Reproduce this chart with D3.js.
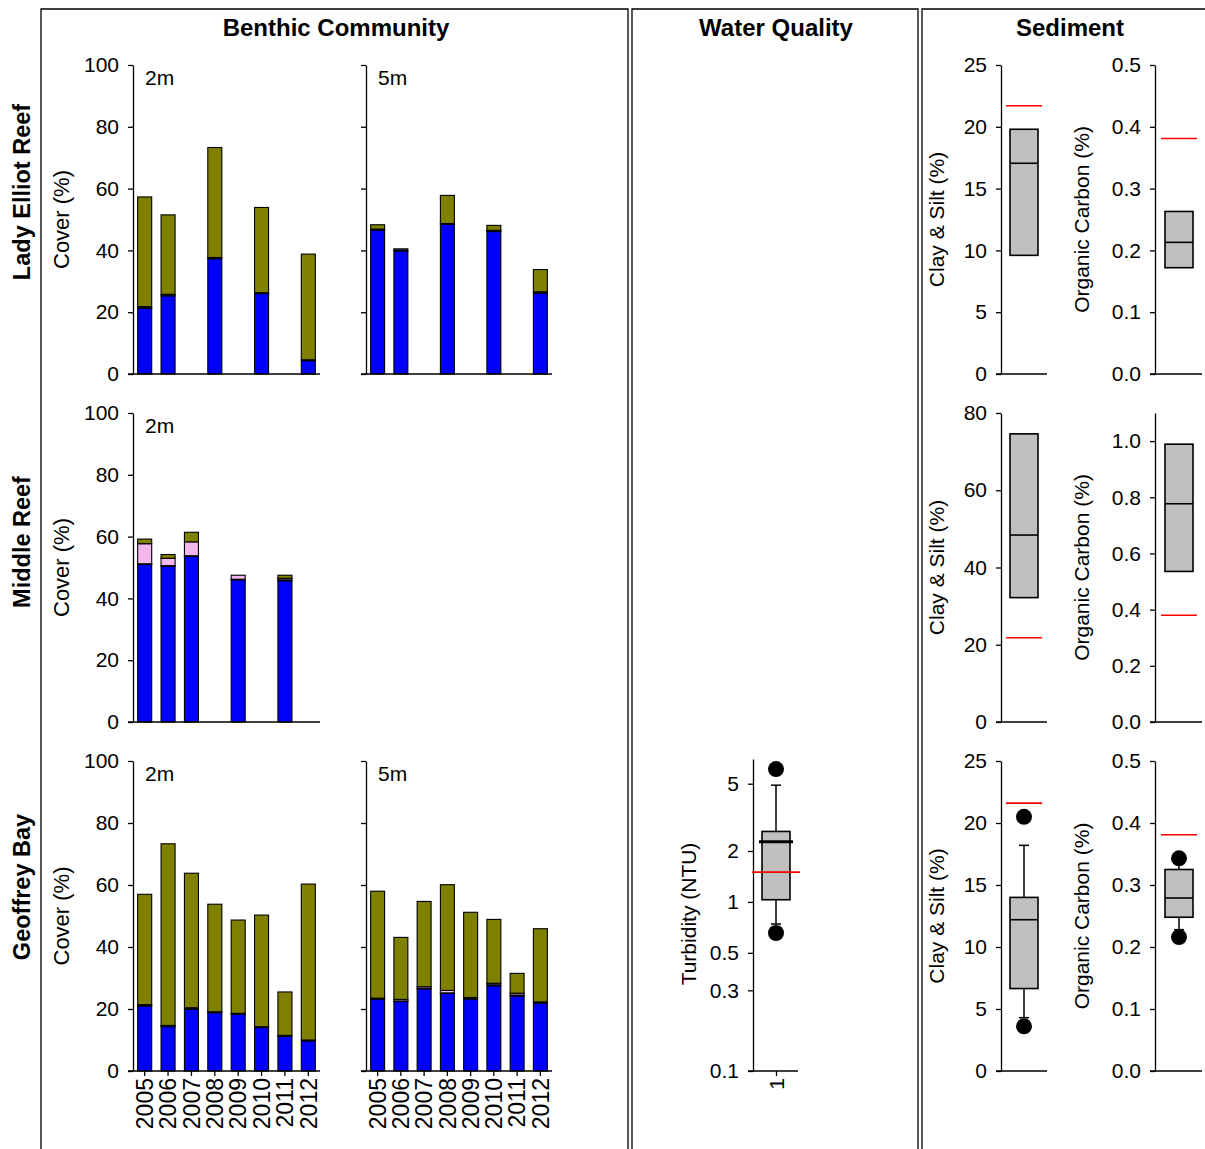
<!DOCTYPE html>
<html>
<head>
<meta charset="utf-8">
<script src="https://cdn.jsdelivr.net/npm/d3@7"></script>
<style>
  body { margin: 0; background: #fff; }
  text { font-family: "Liberation Sans", Arial, sans-serif; fill: #000; }
</style>
</head>
<body>
<svg id="chart" width="1205" height="1149"></svg>
<script>
// ---- data ----
const years = ["2005", "2006", "2007", "2008", "2009", "2010", "2011", "2012"];
const seriesKeys = ["hard", "other", "soft", "macro"];
const seriesColors = ["#0000FF", "#20204a", "#F4B6EE", "#808000"];

// Lady Elliot Reef 2m / 5m (null = not surveyed)
const leHard2  = [21.3, 25.3, null, 37.3, null, 26.0, null, 4.3];
const leOther2 = [0.5, 0.5, null, 0.4, null, 0.3, null, 0.3];
const leSoft2  = [0, 0, null, 0, null, 0, null, 0];
const leMacro2 = [35.5, 25.7, null, 35.6, null, 27.6, null, 34.2];

const leHard5  = [46.6, 39.8, null, 48.4, null, 46.1, null, 26.2];
const leOther5 = [0.3, 0.7, null, 0.3, null, 0.4, null, 0.4];
const leSoft5  = [0, 0, null, 0, null, 0, null, 0];
const leMacro5 = [1.4, 0, null, 9.1, null, 1.6, null, 7.2];

// Middle Reef 2m
const mrHard2  = [51.0, 50.4, 53.6, null, 46.0, null, 45.7, null];
const mrOther2 = [0.2, 0.2, 0.2, null, 0.2, null, 0.3, null];
const mrSoft2  = [6.5, 2.4, 4.5, null, 1.3, null, 0.5, null];
const mrMacro2 = [1.5, 1.2, 3.1, null, 0, null, 1.0, null];

// Geoffrey Bay 2m / 5m
const gbHard2  = [21.0, 14.3, 19.9, 18.8, 18.3, 14.0, 11.2, 9.7];
const gbOther2 = [0.4, 0.4, 0.5, 0.3, 0.3, 0.3, 0.3, 0.3];
const gbSoft2  = [0, 0, 0, 0, 0, 0, 0, 0];
const gbMacro2 = [35.6, 58.6, 43.4, 34.7, 30.1, 36.0, 14.0, 50.3];

const gbHard5  = [23.2, 22.4, 26.5, 25.0, 23.2, 27.5, 24.2, 21.9];
const gbOther5 = [0.3, 0.2, 0.2, 0.2, 0.5, 0.8, 0.3, 0.4];
const gbSoft5  = [0, 0.5, 0.5, 0.8, 0, 0, 0.6, 0];
const gbMacro5 = [34.5, 20.0, 27.5, 34.1, 27.5, 20.6, 6.4, 23.6];

// box plots: [whiskerLow, q1, median, q3, whiskerHigh], outliers, guideline
const turbStats = [0.74, 1.03, 2.27, 2.61, 4.9];
const turbOut = [6.1, 0.655];
const turbGuide = 1.5;

const clayStats = [[null, 9.6, 17.05, 19.8, null], [null, 32.2, 48.4, 74.6, null], [4.3, 6.65, 12.2, 14.0, 18.2]];
const clayOut = [[], [], [20.5, 3.6]];
const clayGuide = [21.7, 21.8, 21.6];

const ocStats = [[null, 0.172, 0.213, 0.263, null], [null, 0.536, 0.777, 0.989, null], [0.228, 0.248, 0.279, 0.325, 0.335]];
const ocOut = [[], [], [0.343, 0.216]];
const ocGuide = [0.381, 0.38, 0.381];

const clayMax = [25, 80, 25];
const clayTicks = [[0, 5, 10, 15, 20, 25], [0, 20, 40, 60, 80], [0, 5, 10, 15, 20, 25]];
const ocMax = [0.5, 1.1, 0.5];
const ocTicks = [[0, 0.1, 0.2, 0.3, 0.4, 0.5], [0, 0.2, 0.4, 0.6, 0.8, 1.0], [0, 0.1, 0.2, 0.3, 0.4, 0.5]];
const turbTicks = [0.1, 0.3, 0.5, 1, 2, 5];

const siteNames = ["Lady Elliot Reef", "Middle Reef", "Geoffrey Bay"];

// ---- layout ----
const rows = [{ top: 65, bottom: 374 }, { top: 413, bottom: 722 }, { top: 761, bottom: 1071 }];
const svg = d3.select("#chart");
const FS = 21;

// frames
const frame = svg.append("g").attr("fill", "none").attr("stroke", "#000").attr("stroke-width", 1.3);
frame.append("path").attr("d", "M41,1149V9H628V1149");
frame.append("path").attr("d", "M632,1149V9H918V1149");
frame.append("path").attr("d", "M922,1149V9H1205");

svg.append("text").attr("x", 336).attr("y", 36).attr("text-anchor", "middle")
  .attr("font-size", 24).attr("font-weight", "bold").text("Benthic Community");
svg.append("text").attr("x", 776).attr("y", 36).attr("text-anchor", "middle")
  .attr("font-size", 24).attr("font-weight", "bold").text("Water Quality");
svg.append("text").attr("x", 1070).attr("y", 36).attr("text-anchor", "middle")
  .attr("font-size", 24).attr("font-weight", "bold").text("Sediment");

const siteY = [192, 542, 887];
siteNames.forEach((s, i) => {
  svg.append("text").attr("transform", `translate(22,${siteY[i]}) rotate(-90)`)
    .attr("dy", "0.35em").attr("text-anchor", "middle")
    .attr("font-size", 23.5).attr("font-weight", "bold").text(s);
});

function styleAxis(g) {
  g.selectAll("path, line").attr("stroke", "#000").attr("stroke-width", 1.3);
  g.selectAll("text").attr("font-size", FS).attr("font-family", "Liberation Sans, Arial, sans-serif");
}

function vLabel(x, y, txt, fs) {
  svg.append("text").attr("transform", `translate(${x},${y}) rotate(-90)`)
    .attr("dy", "0.35em").attr("text-anchor", "middle").attr("font-size", fs || FS).text(txt);
}

function benthicPanel(r, x0, x1, depth, hard, other, soft, macro, yLabels, yearLabels) {
  const row = rows[r];
  const y = d3.scaleLinear().domain([0, 100]).range([row.bottom, row.top]);
  const x = d3.scaleBand().domain(years).range([x0, x1]).paddingInner(0.4).paddingOuter(0.2);
  const table = years.map((yr, i) => ({ year: yr, hard: hard[i], other: other[i], soft: soft[i], macro: macro[i] }))
    .filter(d => d.hard != null);
  const stacked = d3.stack().keys(seriesKeys)(table);
  const g = svg.append("g");
  stacked.forEach((layer, k) => {
    g.selectAll(null).data(layer.filter(d => d[1] - d[0] > 0)).join("rect")
      .attr("x", d => x(d.data.year))
      .attr("width", x.bandwidth())
      .attr("y", d => y(d[1]))
      .attr("height", d => y(d[0]) - y(d[1]))
      .attr("fill", seriesColors[k])
      .attr("stroke", "#000").attr("stroke-width", 1.1);
  });
  const ya = svg.append("g").attr("transform", `translate(${x0},0)`)
    .call(d3.axisLeft(y).tickValues([0, 20, 40, 60, 80, 100]).tickSize(5).tickSizeOuter(0).tickPadding(9)
      .tickFormat(yLabels ? d3.format("d") : () => ""));
  styleAxis(ya);
  if (yearLabels) {
    const xa = svg.append("g").attr("transform", `translate(0,${row.bottom})`)
      .call(d3.axisBottom(x).tickSize(5).tickSizeOuter(0));
    styleAxis(xa);
    xa.select(".domain").attr("d", `M${x0 - 5},0H${x1}`);
    xa.selectAll("text").attr("font-size", 23).attr("transform", "rotate(-90)").attr("text-anchor", "end")
      .attr("x", -7).attr("y", 0).attr("dy", "0.36em");
  } else {
    svg.append("line").attr("x1", x0 - 5).attr("x2", x1).attr("y1", row.bottom).attr("y2", row.bottom)
      .attr("stroke", "#000").attr("stroke-width", 1.3);
  }
  svg.append("text").attr("x", x0 + 12).attr("y", row.top + 20).attr("font-size", FS).text(depth);
  if (yLabels) vLabel(61, (row.top + row.bottom) / 2, "Cover (%)", 22);
}

benthicPanel(0, 133, 320, "2m", leHard2, leOther2, leSoft2, leMacro2, true, false);
benthicPanel(0, 366, 552, "5m", leHard5, leOther5, leSoft5, leMacro5, false, false);
benthicPanel(1, 133, 320, "2m", mrHard2, mrOther2, mrSoft2, mrMacro2, true, false);
benthicPanel(2, 133, 320, "2m", gbHard2, gbOther2, gbSoft2, gbMacro2, true, true);
benthicPanel(2, 366, 552, "5m", gbHard5, gbOther5, gbSoft5, gbMacro5, false, true);

function boxPlot(y, cx, halfW, stats, outliers, guide, guideHalf, medW, medExt) {
  const g = svg.append("g");
  const [wl, q1, med, q3, wh] = stats;
  if (wh != null) {
    g.append("line").attr("x1", cx).attr("x2", cx).attr("y1", y(q3)).attr("y2", y(wh)).attr("stroke", "#000").attr("stroke-width", 1.5);
    g.append("line").attr("x1", cx - 5).attr("x2", cx + 5).attr("y1", y(wh)).attr("y2", y(wh)).attr("stroke", "#000").attr("stroke-width", 1.5);
  }
  if (wl != null) {
    g.append("line").attr("x1", cx).attr("x2", cx).attr("y1", y(q1)).attr("y2", y(wl)).attr("stroke", "#000").attr("stroke-width", 1.5);
    g.append("line").attr("x1", cx - 5).attr("x2", cx + 5).attr("y1", y(wl)).attr("y2", y(wl)).attr("stroke", "#000").attr("stroke-width", 1.5);
  }
  g.append("rect").attr("x", cx - halfW).attr("width", 2 * halfW)
    .attr("y", y(q3)).attr("height", y(q1) - y(q3))
    .attr("fill", "#C0C0C0").attr("stroke", "#000").attr("stroke-width", 1.6);
  g.append("line").attr("x1", cx - halfW - medExt).attr("x2", cx + halfW + medExt)
    .attr("y1", y(med)).attr("y2", y(med)).attr("stroke", "#000").attr("stroke-width", medW);
  g.selectAll("circle").data(outliers).join("circle")
    .attr("cx", cx).attr("cy", d => y(d)).attr("r", 8).attr("fill", "#000");
  g.append("line").attr("x1", cx - guideHalf).attr("x2", cx + guideHalf)
    .attr("y1", y(guide)).attr("y2", y(guide)).attr("stroke", "#FF0000").attr("stroke-width", 1.6);
}

// water quality (turbidity, log scale)
{
  const row = rows[2];
  const y = d3.scaleLog().domain([0.1, 7]).range([row.bottom, row.top - 2]);
  const ax = 753, ex = 798, cx = 776;
  const ya = svg.append("g").attr("transform", `translate(${ax},0)`)
    .call(d3.axisLeft(y).tickValues(turbTicks).tickSize(5).tickSizeOuter(0).tickPadding(9).tickFormat(d3.format("")));
  styleAxis(ya);
  const xs = d3.scalePoint().domain(["1"]).range([cx, cx]);
  const xa = svg.append("g").attr("transform", `translate(0,${row.bottom})`)
    .call(d3.axisBottom(xs).tickSize(5).tickSizeOuter(0));
  styleAxis(xa);
  xa.select(".domain").attr("d", `M${ax - 5},0H${ex}`);
  xa.selectAll("text").attr("transform", "rotate(-90)").attr("text-anchor", "end")
    .attr("x", -7).attr("y", 0).attr("dy", "0.36em");
  boxPlot(y, cx, 14, turbStats, turbOut, turbGuide, 24, 3, 3);
  vLabel(689, (row.top + row.bottom) / 2 - 2, "Turbidity (NTU)");
}

// sediment
rows.forEach((row, r) => {
  const yc = d3.scaleLinear().domain([0, clayMax[r]]).range([row.bottom, row.top]);
  const ca = svg.append("g").attr("transform", `translate(1001,0)`)
    .call(d3.axisLeft(yc).tickValues(clayTicks[r]).tickSize(5).tickSizeOuter(0).tickPadding(9).tickFormat(d3.format("d")));
  styleAxis(ca);
  svg.append("line").attr("x1", 996).attr("x2", 1047).attr("y1", row.bottom).attr("y2", row.bottom)
    .attr("stroke", "#000").attr("stroke-width", 1.3);
  boxPlot(yc, 1024, 14, clayStats[r], clayOut[r], clayGuide[r], 18, 1.6, 0);
  vLabel(937, (row.top + row.bottom) / 2, "Clay & Silt (%)");

  const yo = d3.scaleLinear().domain([0, ocMax[r]]).range([row.bottom, row.top]);
  const oa = svg.append("g").attr("transform", `translate(1155,0)`)
    .call(d3.axisLeft(yo).tickValues(ocTicks[r]).tickSize(5).tickSizeOuter(0).tickPadding(9).tickFormat(d3.format(".1f")));
  styleAxis(oa);
  svg.append("line").attr("x1", 1150).attr("x2", 1202).attr("y1", row.bottom).attr("y2", row.bottom)
    .attr("stroke", "#000").attr("stroke-width", 1.3);
  boxPlot(yo, 1179, 14, ocStats[r], ocOut[r], ocGuide[r], 18, 1.6, 0);
  vLabel(1082, (row.top + row.bottom) / 2, "Organic Carbon (%)");
});
</script>
</body>
</html>
